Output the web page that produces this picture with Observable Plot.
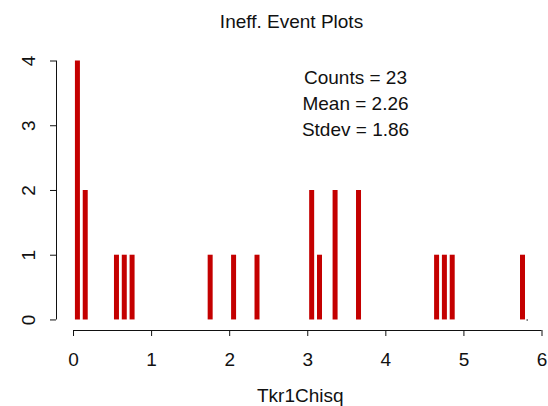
<!DOCTYPE html>
<html>
<head>
<meta charset="utf-8">
<script src="https://cdn.jsdelivr.net/npm/d3@7"></script>
<script src="https://cdn.jsdelivr.net/npm/@observablehq/plot@0.6"></script>
<style>
  html, body { margin: 0; padding: 0; background: #ffffff; }
</style>
</head>
<body>
<script>
// Histogram bin centres (Tkr1Chisq) and the number of events in each bin
const bins = [0.05, 0.15, 0.55, 0.65, 0.75, 1.75, 2.05, 2.35, 3.05, 3.15, 3.35, 3.65, 4.65, 4.75, 4.85, 5.75];
const counts = [4, 2, 1, 1, 1, 1, 1, 1, 2, 1, 2, 2, 1, 1, 1, 1];

// Axis ticks
const xTicks = [0, 1, 2, 3, 4, 5, 6];
const yTicks = [0, 1, 2, 3, 4];

// Summary statistics printed inside the plot
const statLabels = ["Counts = 23", "Mean = 2.26", "Stdev = 1.86"];

// Lone zero-height point left by the plotting device next to the last spike
const strayPoint = [{x: 5.81, y: 0}];

const titleText = "Ineff. Event Plots";
const xLabel = "Tkr1Chisq";

const table = bins.map((b, i) => ({bin: b, count: counts[i]}));

// Plot region padded like an R base plot (axes sit just outside the data range)
const xMin = -0.218, xMax = 6;
const yMin = -0.163, yMax = 4;

const ink = "#111111";
const font = "Liberation Sans, Arial, sans-serif";

const chart = Plot.plot({
  width: 548,
  height: 406,
  marginLeft: 56,
  marginRight: 6.5,
  marginTop: 60.5,
  marginBottom: 76,
  x: {domain: [xMin, xMax]},
  y: {domain: [yMin, yMax]},
  style: {fontFamily: font, background: "#ffffff", color: ink},
  marks: [
    // spikes, one per bin
    Plot.ruleX(table, {x: "bin", y1: 0, y2: "count", stroke: "#c40000", strokeWidth: 5, strokeLinecap: "butt"}),
    Plot.dot(strayPoint, {x: "x", y: "y", r: 0.7, fill: ink, stroke: null}),

    // x axis: line from first to last tick, ticks pointing down, labels below
    Plot.ruleY([yMin], {x1: xTicks[0], x2: xTicks[xTicks.length - 1], stroke: ink}),
    Plot.axisX({ticks: xTicks, tickSize: 6, tickPadding: 16, fontSize: 19, label: null,
      tickFormat: d => String(d), stroke: ink, fill: ink}),

    // y axis: line from 0 to 4, ticks pointing left, labels rotated
    Plot.ruleX([xMin], {y1: yTicks[0], y2: yTicks[yTicks.length - 1], stroke: ink}),
    Plot.axisY({ticks: yTicks, tickSize: 6, tickFormat: () => "", label: null, stroke: ink}),
    Plot.text(yTicks, {x: xMin, y: d => d, text: d => String(d), rotate: -90, dx: -28,
      fontSize: 19, textAnchor: "middle", lineAnchor: "middle", fill: ink}),

    // axis title
    Plot.text([xLabel], {frameAnchor: "bottom", dx: 1, dy: 65.7, fontSize: 19, lineAnchor: "middle", fill: ink}),

    // chart title
    Plot.text([titleText], {frameAnchor: "top", dx: -7.75, dy: -39, fontSize: 19, lineAnchor: "middle", fill: ink}),

    // summary statistics block
    Plot.text([statLabels.join("\n")], {frameAnchor: "top", dx: 56.25, dy: 40.8, fontSize: 19,
      lineHeight: 1.38, lineAnchor: "middle", fill: ink})
  ]
});

document.body.appendChild(chart);
</script>
</body>
</html>
